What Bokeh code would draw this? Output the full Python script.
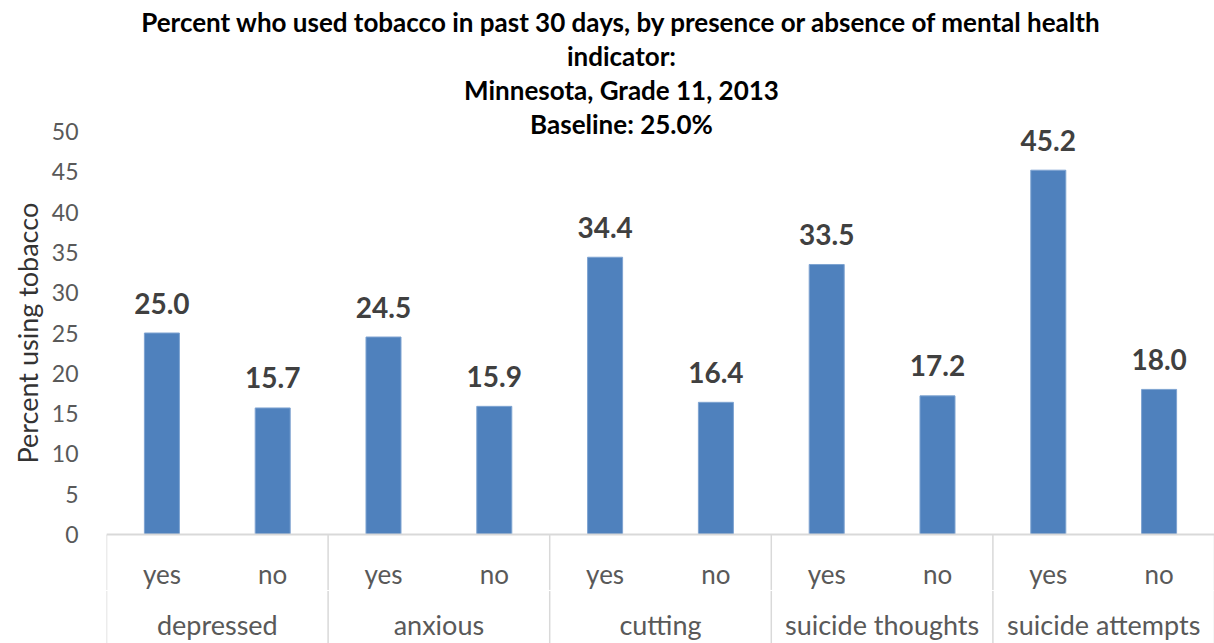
import math
from bokeh.plotting import figure
from bokeh.models import FactorRange, Range1d, FixedTicker, ColumnDataSource, Label, Span, Title
from bokeh.core.properties import value
from bokeh.embed import file_html
from bokeh.resources import INLINE

# ---- data ----
groups = ["depressed", "anxious", "cutting", "suicide thoughts", "suicide attempts"]
answers = ["yes", "no"]
yes_values = [25.0, 24.5, 34.4, 33.5, 45.2]
no_values = [15.7, 15.9, 16.4, 17.2, 18.0]
y_ticks = [0, 5, 10, 15, 20, 25, 30, 35, 40, 45, 50]
title_lines = [
    "Percent who used tobacco in past 30 days, by presence or absence of mental health",
    "indicator:",
    "Minnesota, Grade 11, 2013",
    "Baseline: 25.0%",
]
y_label = "Percent using tobacco"

# ---- layout constants ----
W, H = 1214, 643
LEFT = 106
ZERO_PX = 534.0
FIFTY_PX = 131.0
ppu = (ZERO_PX - FIFTY_PX) / 50.0
y_lo = -(H - ZERO_PX) / ppu
y_hi = 50 + FIFTY_PX / ppu

factors = []
vals = []
for g, yv, nv in zip(groups, yes_values, no_values):
    factors.append((g, answers[0])); vals.append(yv)
    factors.append((g, answers[1])); vals.append(nv)

src = ColumnDataSource(dict(x=factors, top=vals,
                            lab=["%.1f" % v for v in vals],
                            sub=[f[1] for f in factors]))

p = figure(width=W, height=H,
           x_range=FactorRange(*factors, group_padding=0, factor_padding=0, subgroup_padding=0, range_padding=0),
           y_range=Range1d(y_lo, y_hi),
           output_backend="svg", toolbar_location=None,
           x_axis_location=None, y_axis_location="left", title_location=None,
           min_border_left=LEFT, min_border_right=0, min_border_top=0, min_border_bottom=0)
p.outline_line_color = None
p.grid.visible = False
p.background_fill_color = "white"

ya = p.yaxis[0]
ya.ticker = FixedTicker(ticks=y_ticks)
ya.axis_line_color = None
ya.major_tick_line_color = None
ya.minor_tick_line_color = None
ya.major_tick_out = 0
ya.major_tick_in = 0
ya.minor_tick_out = 0
ya.minor_tick_in = 0
ya.major_label_standoff = 28
ya.major_label_text_font = "Lato"
ya.major_label_text_font_size = "23px"
ya.major_label_text_color = "#595959"

# bars
p.vbar(x="x", top="top", bottom=0, width=0.316, source=src,
       fill_color="#4F81BD", line_color="#7EA3D1", line_width=1)

# data labels
p.text(x="x", y="top", text="lab", source=src, y_offset=-30,
       text_align="center", text_baseline="alphabetic",
       text_font=value("Lato"), text_font_style="bold", text_font_size="28px",
       text_color="#404040")

# category axis box
GRID = "#D9D9D9"
p.add_layout(Span(location=0, dimension="width", line_color=GRID, line_width=2))
n_groups = len(groups)
bounds = [2 * i for i in range(n_groups + 1)]
gap_top = -(590 - ZERO_PX) / ppu
p.segment(x0=bounds, y0=[0] * len(bounds), x1=bounds, y1=[gap_top + 0.07] * len(bounds),
          line_color=GRID, line_width=1.5)
p.segment(x0=bounds, y0=[gap_top - 0.07] * len(bounds), x1=bounds, y1=[y_lo] * len(bounds),
          line_color=GRID, line_width=1.5)

sub_y = -(573 - ZERO_PX) / ppu
grp_y = -(624 - ZERO_PX) / ppu
p.text(x="x", y=sub_y, text="sub", source=src,
       text_align="center", text_baseline="middle",
       text_font=value("Lato"), text_font_size="26px", text_color="#595959")
p.text(x=groups, y=[grp_y] * n_groups, text=groups,
       text_align="center", text_baseline="middle",
       text_font=value("Lato"), text_font_size="27px", text_color="#595959")

# y axis title (left panel, shifted along the axis to centre on the 0-50 span)
LABEL_LEN = 262
p.add_layout(Title(text=y_label, align="left", offset=H - 332 - LABEL_LEN / 2,
                   text_font="Lato", text_font_style="normal", text_font_size="27px",
                   text_color="#333333", standoff=9), "left")

# title lines
TITLE_CX = 621
baselines = [21, 55, 89, 123]
for line, b in zip(title_lines, baselines):
    p.add_layout(Label(x=TITLE_CX - LEFT, x_units="screen", y=H - b, y_units="screen",
                       text=line, text_align="center", text_baseline="alphabetic",
                       text_font="Lato", text_font_style="bold", text_font_size="26px",
                       text_color="#000000"))

open("out.html", "w").write(file_html(p, INLINE))
